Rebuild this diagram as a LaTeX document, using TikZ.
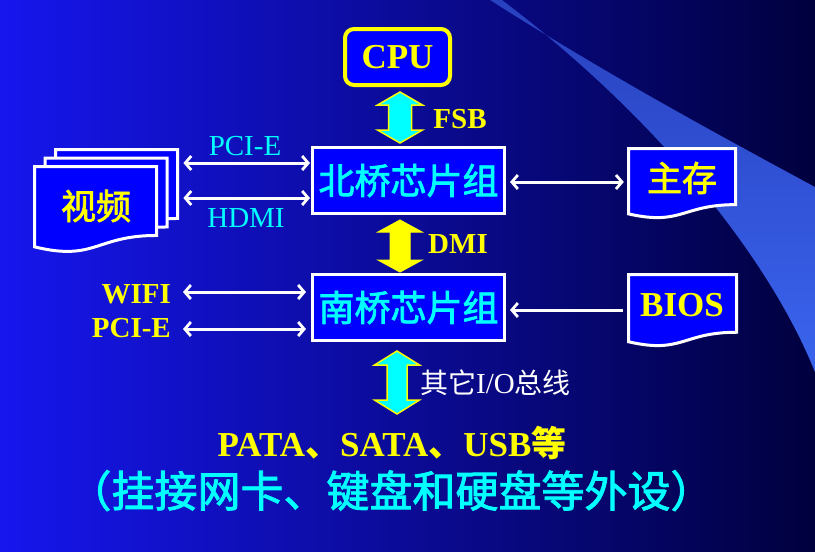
\documentclass[tikz,border=0pt]{standalone}
\usepackage{fontspec}
\setmainfont{Liberation Serif}
\newfontfamily\cjk{Noto Sans CJK SC}
\newfontfamily\cjkm{Noto Sans CJK SC}[FakeBold=2]
\usetikzlibrary{arrows.meta,calc}
\definecolor{bgL}{RGB}{22,22,238}
\definecolor{bgM}{RGB}{10,10,185}
\definecolor{bgR}{RGB}{0,0,62}
\definecolor{swT}{RGB}{40,65,190}
\definecolor{swB}{RGB}{58,100,238}
\definecolor{boxblue}{RGB}{0,0,255}
\definecolor{cy}{RGB}{0,255,255}
\definecolor{ye}{RGB}{255,255,0}
\definecolor{wh}{RGB}{255,255,255}
\newcommand\docpath[5]{%
  \path[#5] (#1,#2) -- ({#1+#3},#2) -- ({#1+#3},{#2+0.802*#4})
    .. controls ({#1+0.5*#3},{#2+0.802*#4}) and ({#1+0.5*#3},{#2+1.107*#4}) ..
    (#1,{#2+0.934*#4}) -- cycle;}
\newcommand\fatarrow[6]{%
  \path[#6] (#1) -- ($(#1)+(#4,#5)$) -- ($(#1)+(#3,#5)$) -- ($(#2)+(#3,-#5)$)
    -- ($(#2)+(#4,-#5)$) -- (#2) -- ($(#2)+(-#4,-#5)$) -- ($(#2)+(-#3,-#5)$)
    -- ($(#1)+(-#3,#5)$) -- ($(#1)+(-#4,#5)$) -- cycle;}
\begin{document}
\begin{tikzpicture}[x=1pt,y=-1pt,
  box/.style={draw=wh,line width=3pt,fill=boxblue,inner sep=0pt,
    minimum width=192pt,minimum height=66pt,text=cy,font=\cjkm\fontsize{36}{36}\selectfont},
  docline/.style={draw=wh,line width=3pt,fill=boxblue},
  barb/.tip={Straight Barb[length=6pt,width=14pt,line width=2.8pt]},
  dbl/.style={draw=wh,line width=3pt,barb-barb},
  sgl/.style={draw=wh,line width=3pt,barb-},
  cyanlbl/.style={text=cy,inner sep=0pt,anchor=base,font=\fontsize{29}{29}\selectfont},
  yellbl/.style={text=ye,inner sep=0pt,font=\bfseries\fontsize{29}{29}\selectfont},
  fatcy/.style={fill=cy,draw=ye,line width=1.5pt,line join=miter},
  fatye/.style={fill=ye,draw=ye,line width=1pt}]
\useasboundingbox (0,0) rectangle (815,552);
% background
\shade[left color=bgL,middle color=bgM,right color=bgR] (0,0) rectangle (815,552);
% swoosh
\shade[top color=swT,bottom color=swB]
  (490,0) .. controls (600,70) and (700,125) .. (815,187) -- (815,372)
  .. controls (770,260) and (660,120) .. (502,0) -- cycle;
% CPU
\node[draw=ye,line width=4pt,fill=boxblue,rounded corners=9pt,inner sep=0pt,
  minimum width=105pt,minimum height=56pt,text=ye,
  font=\bfseries\fontsize{35}{35}\selectfont] (cpu) at (397.5,57) {CPU};
% north / south bridge
\node[box] (nb) at (408.5,180.5) {北桥芯片组};
\node[box] (sb) at (408.5,307.5) {南桥芯片组};
% main memory (document)
\docpath{628.5}{148.5}{107}{70}{docline}
\node[inner sep=0pt,minimum width=110pt,minimum height=60pt,text=ye,
  font=\cjkm\fontsize{35}{35}\selectfont] (mem) at (682,178) {主存};
% BIOS (document)
\docpath{628.5}{274.5}{108}{72}{docline}
\node[inner sep=0pt,minimum width=111pt,minimum height=60pt,text=ye,
  font=\bfseries\fontsize{35}{35}\selectfont] (bios) at (682,305) {BIOS};
% video stack
\docpath{55.5}{149.5}{122}{86}{docline}
\docpath{45}{158}{122}{86}{docline}
\docpath{34.5}{166.5}{122}{86}{docline}
\node[inner sep=0pt,minimum width=146pt,minimum height=99pt,anchor=north west] (stack) at (33,148) {};
\node[text=ye,inner sep=0pt,font=\cjkm\fontsize{35}{35}\selectfont] (video) at (96,206) {视频};
% fat arrows
\coordinate (fsbT) at (400,92);
\coordinate (fsbB) at (400,143);
\fatarrow{fsbT}{fsbB}{11.5}{22.5}{13}{fatcy}
\node[yellbl,anchor=base] (fsb) at (460,128) {FSB};
\coordinate (dmiT) at (400,220);
\coordinate (dmiB) at (400,272);
\fatarrow{dmiT}{dmiB}{10}{22}{12}{fatye}
\node[yellbl,anchor=base] (dmi) at (458,253) {DMI};
\coordinate (ioT) at (397,351);
\coordinate (ioB) at (397,414);
\fatarrow{ioT}{ioB}{10}{22.5}{14}{fatcy}
\node[text=wh,inner sep=0pt,anchor=base west] (io) at (420,393)
  {{\cjk\fontsize{28}{28}\selectfont 其它}{\fontsize{29}{29}\selectfont I/O}{\cjk\fontsize{28}{28}\selectfont 总线}};
% thin arrows: video <-> north bridge
\coordinate (yp) at (0,163);
\coordinate (yh) at (0,198);
\draw[dbl,shorten <=4pt,shorten >=1pt] (stack.east |- yp) -- (nb.west |- yp);
\draw[dbl,shorten <=4pt,shorten >=1pt] (stack.east |- yh) -- (nb.west |- yh);
\node[cyanlbl] (pcie1) at (245,155) {PCI-E};
\node[cyanlbl] (hdmi) at (246,227) {HDMI};
% north bridge <-> memory
\draw[dbl,shorten <=4pt,shorten >=3pt] (nb.east |- 0,182) -- (mem.west |- 0,182);
% south bridge left
\node[yellbl,anchor=base east] (wifi) at (171,303) {WIFI};
\node[yellbl,anchor=base east] (pcie2) at (171,337) {PCI-E};
\draw[dbl,shorten <=12pt,shorten >=5pt] (wifi.east |- 0,292) -- (sb.west |- 0,292);
\draw[dbl,shorten <=12pt,shorten >=5pt] (pcie2.east |- 0,329) -- (sb.west |- 0,329);
% BIOS -> south bridge
\draw[sgl,shorten <=4pt,shorten >=3pt] (sb.east |- 0,310) -- (bios.west |- 0,310);
% bottom texts
\node[text=ye,inner sep=0pt,anchor=base,font=\bfseries\fontsize{35}{35}\selectfont] (bus) at (392,456)
  {PATA{\cjk 、}SATA{\cjk 、}USB{\cjk 等}};
\node[text=cy,inner sep=0pt,anchor=base,font=\cjkm\fontsize{43}{43}\selectfont] (periph) at (391,507)
  {（挂接网卡、键盘和硬盘等外设）};
\end{tikzpicture}
\end{document}
